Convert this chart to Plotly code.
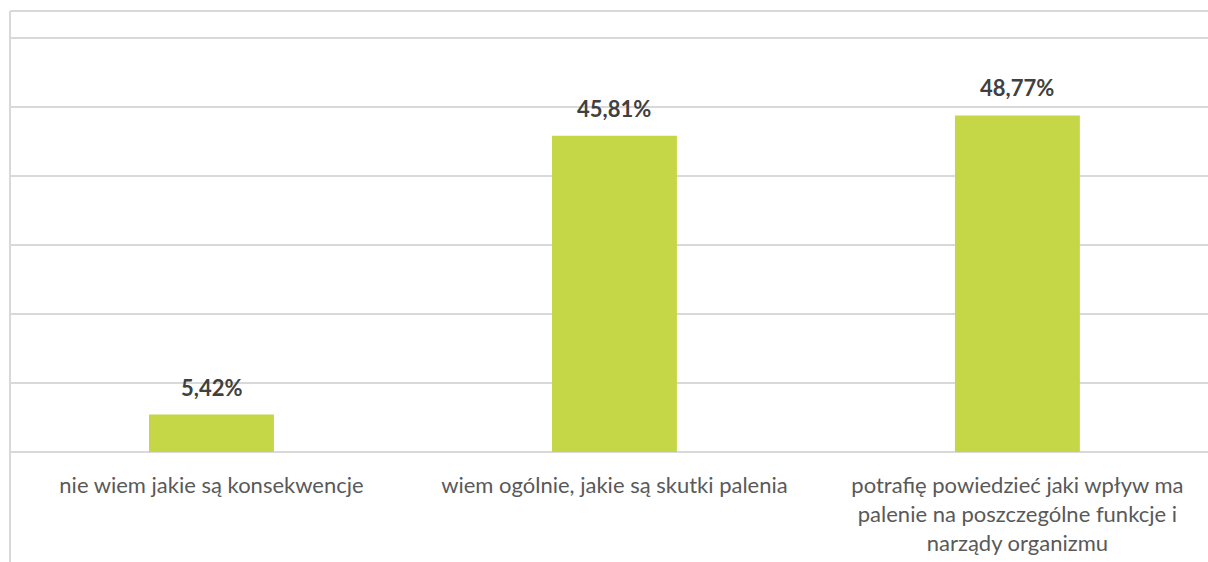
import plotly.graph_objects as go

categories = [
    "nie wiem jakie są konsekwencje",
    "wiem ogólnie, jakie są skutki palenia",
    "potrafię powiedzieć jaki wpływ ma<br>palenie na poszczególne funkcje i<br>narządy organizmu",
]
values = [5.42, 45.81, 48.77]
value_labels = ["5,42%", "45,81%", "48,77%"]
y_ticks = [0, 10, 20, 30, 40, 50, 60]

BAR_COLOR = "#c5d647"
GRID_COLOR = "#d9d9d9"
FONT = "Lato, 'Open Sans', sans-serif"

fig = go.Figure(
    go.Bar(
        x=categories,
        y=values,
        marker=dict(color=BAR_COLOR, line=dict(width=0)),
        width=0.31,
        hoverinfo="skip",
    )
)

for cat, val, lab in zip(categories, values, value_labels):
    fig.add_annotation(
        x=cat,
        y=val,
        text="<b>%s</b>" % lab,
        showarrow=False,
        yanchor="bottom",
        yshift=12,
        font=dict(family=FONT, size=22, color="#404040"),
    )

# chart frame (cropped): top edge and left edge
fig.add_shape(type="line", xref="paper", yref="paper", x0=0, x1=1.01, y0=1, y1=1,
              line=dict(color=GRID_COLOR, width=2))
fig.add_shape(type="line", xref="paper", yref="paper", x0=0, x1=0, y0=-0.3, y1=1,
              line=dict(color=GRID_COLOR, width=2))

fig.update_layout(
    width=1208,
    height=562,
    margin=dict(l=10, r=0, t=11, b=110),
    paper_bgcolor="white",
    plot_bgcolor="white",
    showlegend=False,
    font=dict(family=FONT, size=22, color="#595959"),
)
fig.update_xaxes(
    range=[-0.5, 2.473],
    showgrid=False,
    showline=False,
    ticks="outside",
    ticklen=14,
    tickcolor="rgba(0,0,0,0)",
    tickfont=dict(family=FONT, size=22, color="#595959"),
)
fig.update_yaxes(
    range=[0, 63.9],
    tickvals=y_ticks,
    showticklabels=False,
    showgrid=True,
    gridcolor=GRID_COLOR,
    gridwidth=2,
    zeroline=True,
    zerolinecolor=GRID_COLOR,
    zerolinewidth=2,
)

fig.write_html(
    "out.html",
    config={"displayModeBar": False},
    post_script="document.body.style.margin='0px';document.body.style.overflow='hidden';",
)
